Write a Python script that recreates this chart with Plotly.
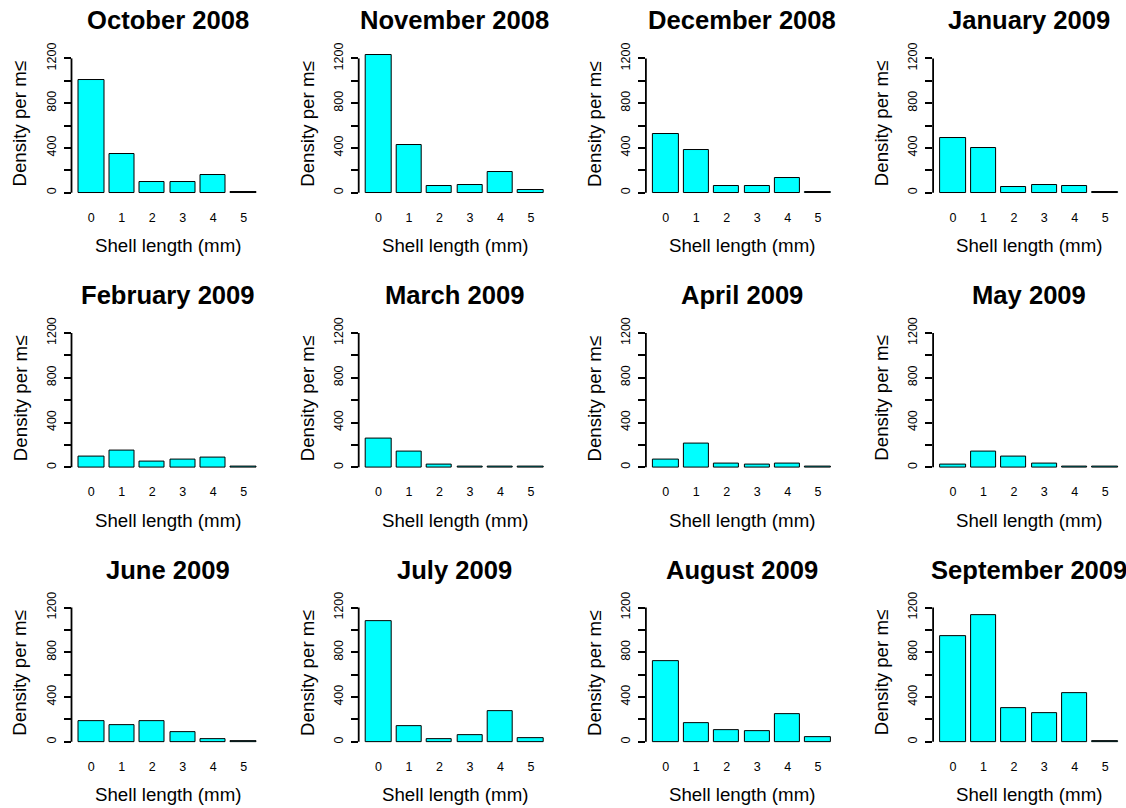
import plotly.graph_objects as go

# Monthly shell-length frequency distributions (density per m²)
months = ["October 2008", "November 2008", "December 2008", "January 2009",
          "February 2009", "March 2009", "April 2009", "May 2009",
          "June 2009", "July 2009", "August 2009", "September 2009"]
size_classes = [0, 1, 2, 3, 4, 5]

oct_2008 = [1010, 350, 94, 94, 159, 10]
nov_2008 = [1229, 426, 59, 71, 188, 21]
dec_2008 = [523, 382, 59, 59, 135, 8]
jan_2009 = [491, 403, 50, 71, 59, 2]
feb_2009 = [94, 150, 53, 65, 85, 8]
mar_2009 = [256, 138, 21, 9, 9, 3]
apr_2009 = [65, 215, 32, 21, 32, 3]
may_2009 = [21, 138, 94, 32, 10, 3]
jun_2009 = [181, 149, 181, 85, 23, 8]
jul_2009 = [1080, 143, 23, 56, 278, 32]
aug_2009 = [717, 170, 105, 94, 243, 41]
sep_2009 = [943, 1133, 304, 258, 436, 6]

series = [oct_2008, nov_2008, dec_2008, jan_2009,
          feb_2009, mar_2009, apr_2009, may_2009,
          jun_2009, jul_2009, aug_2009, sep_2009]

y_tickvals = [0, 200, 400, 600, 800, 1000, 1200]
y_ticktext = ["0", "", "400", "", "800", "", "1200"]

W, H = 1126, 808
FONT = "Liberation Sans, Arial, sans-serif"

# panel geometry in pixels
col_x0 = 71.5
col_step = 287.2
plot_w = 192.0
row_top0 = 43.56
row_step = 278.0
plot_h = 146.88

fig = go.Figure()
annotations = []
shapes = []

def px_x(p):
    return p / W

def px_y(p):
    return 1 - p / H

for i, (title, vals) in enumerate(zip(months, series)):
    r, c = divmod(i, 4)
    x0 = col_x0 + c * col_step
    x1 = x0 + plot_w
    top = row_top0 + r * row_step
    bot = top + plot_h
    n = i + 1
    xa = "x" if n == 1 else f"x{n}"
    ya = "y" if n == 1 else f"y{n}"

    fig.add_trace(go.Bar(
        x=size_classes, y=vals, width=1 / 1.2,
        marker=dict(color="#00FFFF", line=dict(color="black", width=1)),
        xaxis=xa, yaxis=ya, showlegend=False, hoverinfo="x+y",
    ))

    fig.layout[f"xaxis{'' if n == 1 else n}"] = dict(
        domain=[px_x(x0), px_x(x1)], anchor=ya,
        range=[-0.65, 5.65], tickvals=size_classes,
        ticktext=[str(s) for s in size_classes],
        showline=False, showgrid=False, zeroline=False, ticks="",
        ticklabelstandoff=10,
        tickfont=dict(family=FONT, size=12.5, color="black"),
        fixedrange=True,
    )
    fig.layout[f"yaxis{'' if n == 1 else n}"] = dict(
        domain=[px_y(bot), px_y(top)], anchor=xa,
        range=[-48, 1248], tickvals=y_tickvals, ticktext=y_ticktext,
        showline=False, showgrid=False, zeroline=False,
        ticks="outside", ticklen=7, tickwidth=1.8, tickcolor="black",
        tickangle=-90, ticklabelstandoff=3,
        tickfont=dict(family=FONT, size=12.5, color="black"),
        fixedrange=True,
    )

    # y axis spine spanning the tick range only
    shapes.append(dict(type="line", xref=f"{xa} domain", yref=ya,
                       x0=0, x1=0, y0=0, y1=1200,
                       line=dict(color="black", width=1.8)))

    cx = (x0 + x1) / 2
    annotations.append(dict(
        text=f"<b>{title}</b>", x=px_x(cx), y=px_y(top - 33),
        xref="paper", yref="paper", xanchor="center", yanchor="middle",
        showarrow=False, font=dict(family=FONT, size=25.6, color="black")))
    annotations.append(dict(
        text="Shell length (mm)", x=px_x(cx), y=px_y(bot + 48),
        xref="paper", yref="paper", xanchor="center", yanchor="middle",
        showarrow=False, font=dict(family=FONT, size=18.7, color="black")))
    annotations.append(dict(
        text="Density per m≤", x=px_x(x0 - 51.5), y=px_y((top + bot) / 2 - 2),
        xref="paper", yref="paper", xanchor="center", yanchor="middle",
        textangle=-90, showarrow=False,
        font=dict(family=FONT, size=18.7, color="black")))

fig.update_layout(
    width=W, height=H, margin=dict(l=0, r=0, t=0, b=0),
    paper_bgcolor="white", plot_bgcolor="white",
    annotations=annotations, shapes=shapes, bargap=0,
    font=dict(family=FONT, color="black"),
)

fig.write_html("out.html")
